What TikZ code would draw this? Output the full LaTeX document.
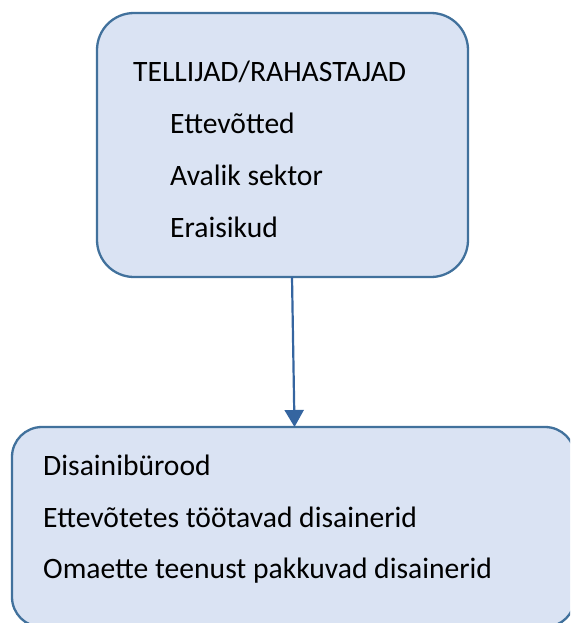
\documentclass[tikz,border=0pt]{standalone}
\usepackage{fontspec}
\setmainfont{Carlito}
\usetikzlibrary{arrows.meta}
\definecolor{boxfill}{HTML}{DAE3F3}
\definecolor{boxline}{HTML}{41719C}
\definecolor{arrowcol}{HTML}{3565A0}
\begin{document}
\begin{tikzpicture}[x=1pt,y=-1pt,
  boxshape/.style={draw=boxline,fill=boxfill,line width=2.3pt},
  txt/.style={anchor=base west,inner sep=0pt,font=\fontsize{29.6}{35}\selectfont}]
\useasboundingbox (0,0) rectangle (570,623);
\begin{scope}
\clip (0,0) rectangle (570,623);
\draw[boxshape,rounded corners=37pt] (97,13) rectangle (468,277);
\draw[boxshape,rounded corners=30pt] (12,427) rectangle (575,627);
\end{scope}
\coordinate (topbox) at (292,277);
\coordinate (botbox) at (294.5,427);
\draw[arrowcol,line width=2.2pt,-{Triangle[length=17pt,width=19pt]}] (topbox) -- (botbox);
\node[txt] (t0) at (133,82) {TELLIJAD/RAHASTAJAD};
\node[txt] (t1) at (170,133) {Ettevõtted};
\node[txt] (t2) at (170,185) {Avalik sektor};
\node[txt] (t3) at (170,237) {Eraisikud};
\node[txt] (b1) at (43,475) {Disainibürood};
\node[txt] (b2) at (43,527) {Ettevõtetes töötavad disainerid};
\node[txt] (b3) at (43,578) {Omaette teenust pakkuvad disainerid};
\end{tikzpicture}
\end{document}
